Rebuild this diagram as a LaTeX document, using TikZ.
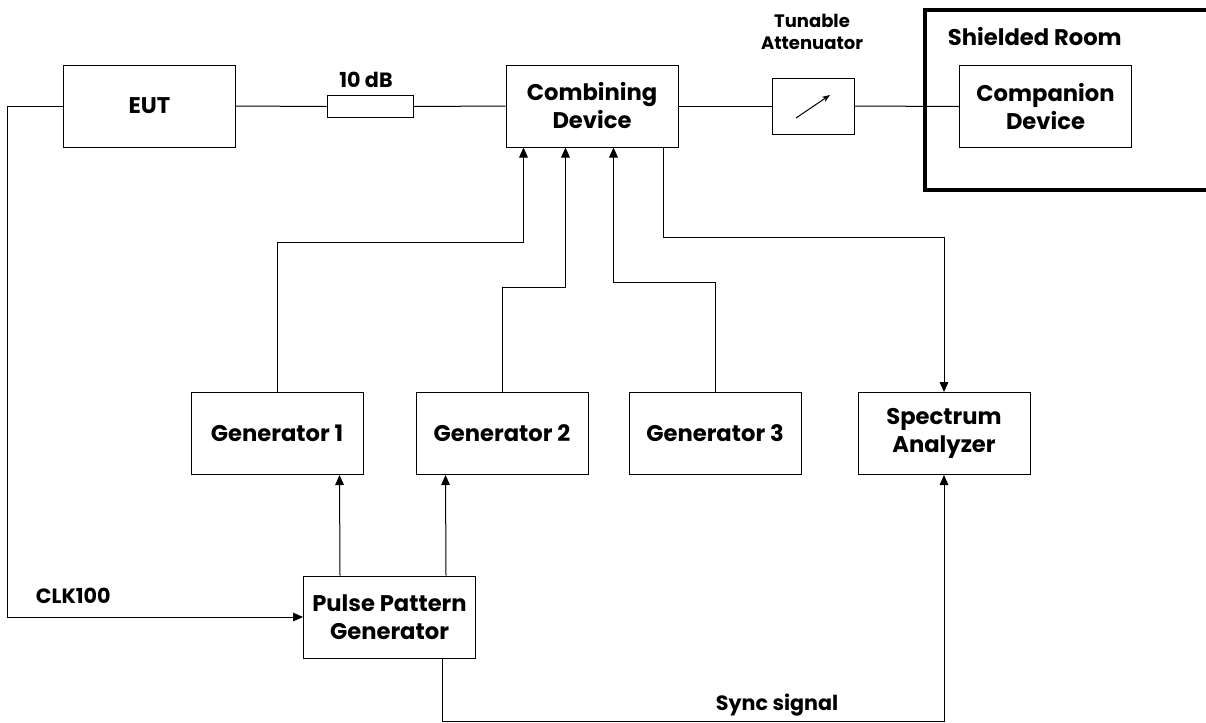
\documentclass[tikz,border=0pt]{standalone}
\usepackage{fontspec}
\setmainfont{Poppins}
\usetikzlibrary{arrows.meta,calc}
\begin{document}
\begin{tikzpicture}[x=0.75pt,y=-0.75pt,line width=0.75pt,
	bloc/.style={draw,inner sep=0pt,minimum width=129pt,minimum height=61.5pt,align=center,font=\fontsize{17}{21}\selectfont\bfseries},
	fl/.style={-{Triangle[length=7.5pt,width=6.5pt]}},
	lab/.style={font=\fontsize{15.5}{19}\selectfont\bfseries}]
	\useasboundingbox (0,0) rectangle (1206,722);
		\node[bloc] (eut) at (149.5,106) {EUT};
		\node[draw,inner sep=0pt,minimum width=64.5pt,minimum height=16.5pt] (att) at (370,106.5) {};
		\node[lab] at (366,80) {10 dB};
		\node[bloc] (comb) at (592,106) {Combining\\Device};
		\node[draw,inner sep=0pt,minimum width=61.5pt,minimum height=42pt] (tun) at (813,106) {};
		\node[align=center,font=\fontsize{13.5}{16.5}\selectfont\bfseries] at (812,32) {Tunable\\Attenuator};
		\draw[-{Stealth[length=6pt,width=4.5pt]}] ($(tun.center)+(-17,12)$) -- ($(tun.center)+(17,-11)$);
		\node[bloc] (comp) at (1045.5,106.5) {Companion\\Device};
		\draw[line width=3pt] (1215,10) -- (925,10) -- (925,190) -- (1215,190);
		\node[anchor=base west,font=\fontsize{17}{21}\selectfont\bfseries] at (943,45) {Shielded Room};
		\node[bloc] (gen1) at (277,433.5) {Generator 1};
		\node[bloc] (gen2) at (502,433.5) {Generator 2};
		\node[bloc] (gen3) at (715,433.5) {Generator 3};
		\node[bloc] (spec) at (944,433.5) {Spectrum\\Analyzer};
		\node[bloc] (ppg) at (389.5,617) {Pulse Pattern\\Generator};
		\node[lab,anchor=base west] at (31,603) {CLK100};
		\node[lab,anchor=base west] at (711,710) {Sync signal};
			\draw (eut.east) -- (att.west);
			\draw (att.east) -- (comb.west);
			\draw (comb.east) -- (tun.west);
			\draw (tun.east) -- (comp.west);
			\draw[fl] (eut.west) -- ++(-56,0) |- (ppg.west);
			\draw[fl] (gen1.north) |- ($(comb.south west)+(18,95)$) -- ($(comb.south west)+(18,0)$);
			\draw[fl] (gen2.north) |- ($(comb.south west)+(60,140)$) -- ($(comb.south west)+(60,0)$);
			\draw[fl] (gen3.north) |- ($(comb.south west)+(108,135)$) -- ($(comb.south west)+(108,0)$);
			\draw[fl] ($(comb.south east)+(-15,0)$) |- ($(spec.north)+(0,-155)$) -- (spec.north);
			\draw[fl] ($(ppg.north west)+(37,0)$) -- ($(gen1.south west)+(149,0)$);
			\draw[fl] ($(ppg.north west)+(143,0)$) -- ($(gen2.south west)+(30,0)$);
			\draw[fl] ($(ppg.south west)+(139,0)$) |- ($(spec.south)+(0,246)$) -- (spec.south);
\end{tikzpicture}
\end{document}
